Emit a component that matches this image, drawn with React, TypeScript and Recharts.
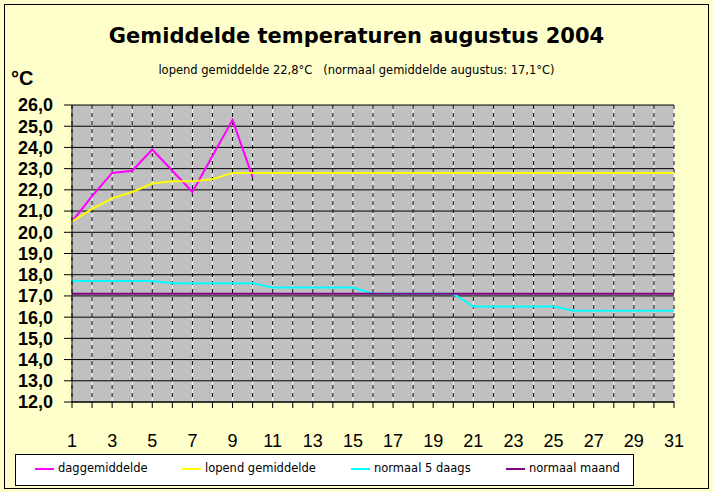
import React from "react";
import { LineChart, Line, XAxis, YAxis, CartesianGrid } from "recharts";

// dagen van augustus
const days = [
  1, 2, 3, 4, 5, 6, 7, 8, 9, 10, 11, 12, 13, 14, 15, 16, 17, 18, 19, 20, 21,
  22, 23, 24, 25, 26, 27, 28, 29, 30, 31,
];

// gemeten daggemiddelde (alleen t/m de 10e)
const daggemiddelde = [20.5, 21.7, 22.8, 22.9, 23.9, 22.9, 21.9, 23.6, 25.3, 22.6];

const lopendGemiddelde = [
  20.5, 21.1, 21.6, 21.9, 22.3, 22.4, 22.4, 22.5, 22.8, 22.8, 22.8, 22.8, 22.8,
  22.8, 22.8, 22.8, 22.8, 22.8, 22.8, 22.8, 22.8, 22.8, 22.8, 22.8, 22.8, 22.8,
  22.8, 22.8, 22.8, 22.8, 22.8,
];

const normaal5Daags = [
  17.7, 17.7, 17.7, 17.7, 17.7, 17.6, 17.6, 17.6, 17.6, 17.6, 17.4, 17.4, 17.4,
  17.4, 17.4, 17.1, 17.1, 17.1, 17.1, 17.1, 16.5, 16.5, 16.5, 16.5, 16.5, 16.3,
  16.3, 16.3, 16.3, 16.3, 16.3,
];

const normaalMaand = [
  17.1, 17.1, 17.1, 17.1, 17.1, 17.1, 17.1, 17.1, 17.1, 17.1, 17.1, 17.1, 17.1,
  17.1, 17.1, 17.1, 17.1, 17.1, 17.1, 17.1, 17.1, 17.1, 17.1, 17.1, 17.1, 17.1,
  17.1, 17.1, 17.1, 17.1, 17.1,
];

const yTicks = [12, 13, 14, 15, 16, 17, 18, 19, 20, 21, 22, 23, 24, 25, 26];

const data = days.map((day, i) => ({
  day,
  dag: i < daggemiddelde.length ? daggemiddelde[i] : null,
  lopend: lopendGemiddelde[i],
  vijf: normaal5Daags[i],
  maand: normaalMaand[i],
}));

const series = [
  { key: "dag", name: "daggemiddelde", color: "#FF00FF", x: 35 },
  { key: "lopend", name: "lopend gemiddelde", color: "#FFFF00", x: 182 },
  { key: "vijf", name: "normaal 5 daags", color: "#00FFFF", x: 351 },
  { key: "maand", name: "normaal maand", color: "#800080", x: 506 },
];

const sans = "'DejaVu Sans', sans-serif";
const arial = "'Liberation Sans', Arial, sans-serif";

const DayTick = (props: any) => {
  const { x, y, payload } = props;
  if (payload.value % 2 === 0) return null;
  return (
    <text
      x={x}
      y={y + 37}
      textAnchor="middle"
      fill="#000"
      fontSize={18}
      fontFamily={arial}
    >
      {payload.value}
    </text>
  );
};

export default function App() {
  return (
    <div
      style={{
        position: "absolute",
        left: 0,
        top: 0,
        width: 713,
        height: 492,
        background: "#FFFFCC",
        overflow: "hidden",
      }}
    >
      <div
        style={{
          position: "absolute",
          left: 4,
          top: 4,
          width: 703,
          height: 483,
          border: "1px solid #000",
        }}
      />
      <div
        style={{
          position: "absolute",
          left: 0,
          width: 713,
          top: 24,
          textAlign: "center",
          fontFamily: sans,
          fontWeight: "bold",
          fontSize: 21,
        }}
      >
        Gemiddelde temperaturen augustus 2004
      </div>
      <div
        style={{
          position: "absolute",
          left: 0,
          width: 713,
          top: 63,
          textAlign: "center",
          fontFamily: sans,
          fontSize: 11.5,
          whiteSpace: "pre",
        }}
      >
        {"lopend gemiddelde 22,8°C   (normaal gemiddelde augustus: 17,1°C)"}
      </div>
      <div
        style={{
          position: "absolute",
          left: 11,
          top: 67,
          fontFamily: arial,
          fontWeight: "bold",
          fontSize: 20,
        }}
      >
        °C
      </div>

      <LineChart
        width={713}
        height={492}
        data={data}
        margin={{ top: 105, right: 39, bottom: 60, left: 12 }}
        style={{ position: "absolute", left: 0, top: 0 }}
      >
        <CartesianGrid fill="#C0C0C0" horizontal={false} stroke="#FFFFFF" />
        <CartesianGrid horizontal={false} stroke="#000" strokeDasharray="4 4" />
        <CartesianGrid vertical={false} stroke="#000" />
        <XAxis
          dataKey="day"
          type="number"
          domain={[1, 31]}
          ticks={days}
          interval={0}
          height={30}
          tickSize={6}
          stroke="#000"
          tick={<DayTick />}
        />
        <YAxis
          type="number"
          domain={[12, 26]}
          ticks={yTicks}
          interval={0}
          width={60}
          tickSize={8}
          tickMargin={11}
          stroke="#000"
          tickFormatter={(v: number) => v.toFixed(1).replace(".", ",")}
          tick={{ fill: "#000", fontSize: 18, fontWeight: "bold", fontFamily: arial }}
        />
        {series.map((s) => (
          <Line
            key={s.key}
            dataKey={s.key}
            name={s.name}
            type="linear"
            stroke={s.color}
            strokeWidth={2}
            dot={false}
            activeDot={false}
            isAnimationActive={false}
          />
        ))}
      </LineChart>

      <div
        style={{
          position: "absolute",
          left: 15,
          top: 454,
          width: 617,
          height: 30,
          background: "#FFFFFF",
          border: "1px solid #000",
        }}
      />
      {series.map((s) => (
        <React.Fragment key={s.key}>
          <div
            style={{
              position: "absolute",
              left: s.x,
              top: 468,
              width: 19,
              height: 2,
              background: s.color,
            }}
          />
          <div
            style={{
              position: "absolute",
              left: s.x + 23,
              top: 461,
              fontFamily: sans,
              fontSize: 11.5,
              whiteSpace: "pre",
            }}
          >
            {s.name}
          </div>
        </React.Fragment>
      ))}
    </div>
  );
}
